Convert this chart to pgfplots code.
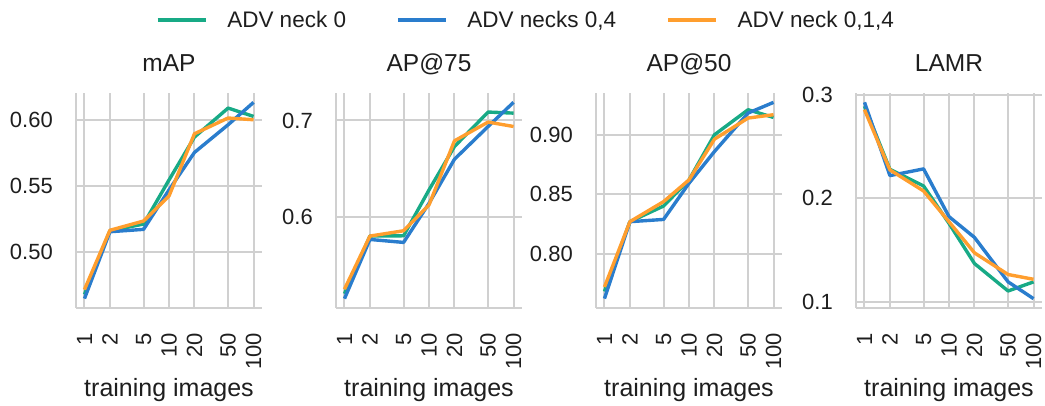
\documentclass[border=0pt]{standalone}
\usepackage{pgfplots}
\pgfplotsset{compat=1.18}
\usepackage{fontspec}
\setmainfont{Liberation Sans}
\definecolor{cgreen}{RGB}{24,170,134}
\definecolor{cblue}{RGB}{42,125,205}
\definecolor{corange}{RGB}{255,158,46}
\definecolor{gridgray}{RGB}{208,208,208}
\definecolor{txt}{RGB}{30,30,30}
\pgfplotsset{
  panel/.style={
    scale only axis, width=186pt, height=215pt, anchor=south west,
    xmin=0.794, xmax=125.9,
    xtick={1,2,5,10,20,50,100},
    xticklabels={1,2,5,10,20,50,100},
    axis lines=left,
    axis line style={-, draw=gridgray, line width=2.5pt},
    grid=major,
    major grid style={draw=gridgray, line width=2pt},
    major tick length=0pt, minor tick length=0pt,
    /pgf/number format/assume math mode=true,
    tick label style={font=\fontsize{22}{26}\selectfont, text=txt, inner sep=0pt},
    xticklabel style={rotate=90, anchor=east},
    xticklabel shift=25pt,
    yticklabel shift=23pt,
    xlabel={training images},
    xlabel style={at={(axis description cs:0.5,0)}, anchor=base, yshift=-89pt,
      font=\fontsize{25}{29}\selectfont, text=txt, inner sep=0pt},
    title style={at={(axis description cs:0.5,1)}, anchor=base, yshift=15.3pt,
      font=\fontsize{24.5}{29}\selectfont, text=txt, inner sep=0pt},
  },
  twodec/.style={yticklabel style={/pgf/number format/fixed, /pgf/number format/fixed zerofill, /pgf/number format/precision=2}},
  onedec/.style={yticklabel style={/pgf/number format/fixed, /pgf/number format/fixed zerofill, /pgf/number format/precision=1}},
  lw/.style={line width=3.4pt, line join=round, mark=none},
}
\begin{document}
\begin{tikzpicture}
\useasboundingbox (0pt,0pt) rectangle (1045pt,406pt);
% mAP
\begin{semilogxaxis}[panel, twodec, at={(76pt,98pt)}, title={mAP},
  ymin=0.4578, ymax=0.6202, ytick={0.50,0.55,0.60},
  legend columns=3,
  legend image code/.code={\draw[#1] (0pt,0pt) -- (48pt,0pt);},
  legend style={at={(axis description cs:2.419,1.3395)}, anchor=center, draw=none, fill=none,
    font=\fontsize{22.5}{26}\selectfont, text=txt,
    /tikz/every odd column/.append style={column sep=18pt},
    /tikz/every even column/.append style={column sep=48pt}},
]
\addplot[cgreen, lw] coordinates {(1,0.468) (2,0.5162) (5,0.5212) (10,0.5545) (20,0.5869) (50,0.6088) (100,0.6025)};
\addlegendentry{ADV neck 0}
\addplot[cblue, lw] coordinates {(1,0.4649) (2,0.5154) (5,0.5172) (10,0.547) (20,0.5753) (50,0.5962) (100,0.6131)};
\addlegendentry{ADV necks 0,4}
\addplot[corange, lw] coordinates {(1,0.4717) (2,0.5165) (5,0.5235) (10,0.5424) (20,0.5894) (50,0.6013) (100,0.600)};
\addlegendentry{ADV neck 0,1,4}
\end{semilogxaxis}
% AP@75
\begin{semilogxaxis}[panel, onedec, at={(336pt,98pt)}, title={AP@75},
  ymin=0.5052, ymax=0.7285, ytick={0.6,0.7}]
\addplot[cgreen, lw] coordinates {(1,0.520) (2,0.5799) (5,0.5802) (10,0.6278) (20,0.6729) (50,0.7087) (100,0.7076)};
\addplot[cblue, lw] coordinates {(1,0.5149) (2,0.5764) (5,0.5733) (10,0.6139) (20,0.6597) (50,0.6937) (100,0.7188)};
\addplot[corange, lw] coordinates {(1,0.5247) (2,0.5799) (5,0.5854) (10,0.6122) (20,0.6788) (50,0.6983) (100,0.6937)};
\end{semilogxaxis}
% AP@50
\begin{semilogxaxis}[panel, twodec, at={(596pt,98pt)}, title={AP@50},
  ymin=0.7541, ymax=0.9352, ytick={0.80,0.85,0.90}]
\addplot[cgreen, lw] coordinates {(1,0.768) (2,0.8268) (5,0.840) (10,0.862) (20,0.900) (50,0.9211) (100,0.9146)};
\addplot[cblue, lw] coordinates {(1,0.762) (2,0.8268) (5,0.8287) (10,0.8592) (20,0.8859) (50,0.9183) (100,0.9273)};
\addplot[corange, lw] coordinates {(1,0.7718) (2,0.8268) (5,0.8437) (10,0.862) (20,0.8963) (50,0.9141) (100,0.9169)};
\end{semilogxaxis}
% LAMR
\begin{semilogxaxis}[panel, onedec, at={(856pt,98pt)}, title={LAMR},
  ymin=0.0942, ymax=0.3016, ytick={0.1,0.2,0.3}]
\addplot[cgreen, lw] coordinates {(1,0.289) (2,0.228) (5,0.2119) (10,0.1758) (20,0.1371) (50,0.1106) (100,0.1194)};
\addplot[cblue, lw] coordinates {(1,0.2926) (2,0.2219) (5,0.2284) (10,0.1823) (20,0.1623) (50,0.1194) (100,0.1032)};
\addplot[corange, lw] coordinates {(1,0.2855) (2,0.2274) (5,0.2071) (10,0.1774) (20,0.1474) (50,0.1265) (100,0.1219)};
\end{semilogxaxis}
\end{tikzpicture}
\end{document}
